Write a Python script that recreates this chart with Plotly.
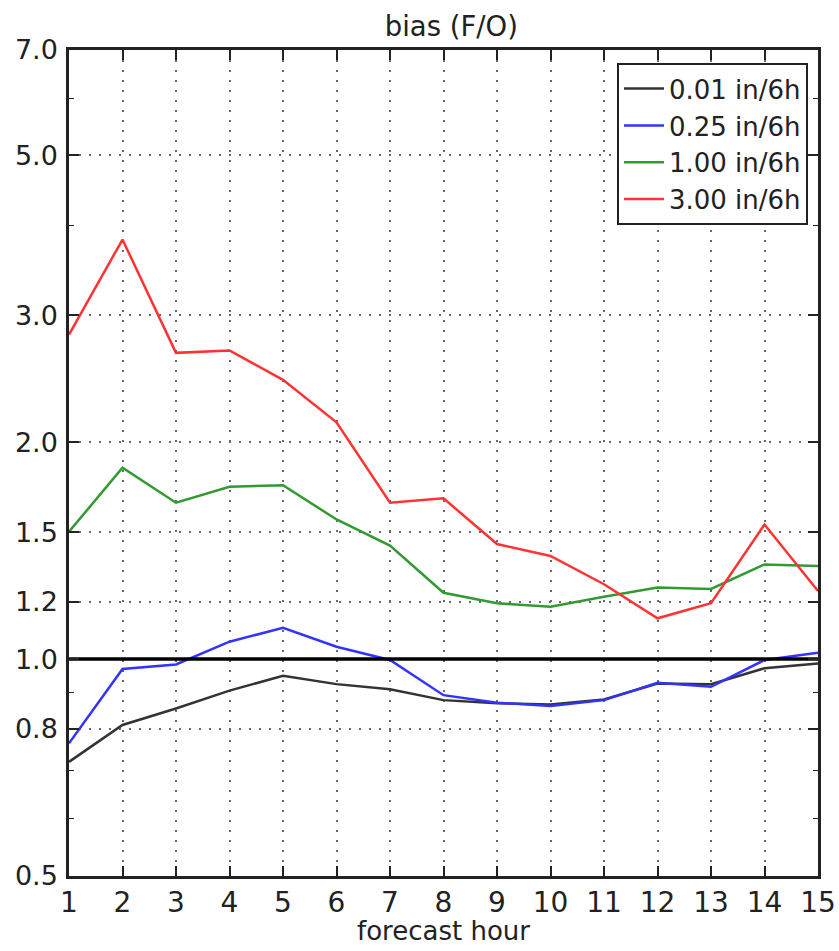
import math
import plotly.graph_objects as go

hours = list(range(1, 16))
thresholds = ["0.01 in/6h", "0.25 in/6h", "1.00 in/6h", "3.00 in/6h"]
bias_001 = [0.720, 0.810, 0.854, 0.904, 0.948, 0.923, 0.908, 0.877, 0.868, 0.865, 0.879, 0.925, 0.923, 0.971, 0.986]
bias_025 = [0.764, 0.969, 0.983, 1.057, 1.105, 1.040, 0.997, 0.891, 0.870, 0.861, 0.877, 0.927, 0.915, 0.997, 1.020]
bias_100 = [1.502, 1.843, 1.648, 1.734, 1.743, 1.562, 1.437, 1.236, 1.195, 1.182, 1.220, 1.257, 1.251, 1.353, 1.346]
bias_300 = [2.82, 3.82, 2.66, 2.68, 2.44, 2.13, 1.648, 1.671, 1.444, 1.39, 1.27, 1.139, 1.195, 1.537, 1.243]
series = [bias_001, bias_025, bias_100, bias_300]
colors = ["#333333", "#3333ff", "#339933", "#ff3333"]

ref_value = 1.0
y_ticks = [0.5, 0.8, 1.0, 1.2, 1.5, 2.0, 3.0, 5.0, 7.0]
y_minor = [0.6, 0.7, 0.9, 4.0, 6.0]
y_range = [0.5, 7.0]

FONT = "DejaVu Sans"
TXT = "#222222"

fig = go.Figure()
for name, vals, col in zip(thresholds, series, colors):
    fig.add_trace(go.Scatter(x=hours, y=vals, mode="lines", name=name,
                             line=dict(color=col, width=2.5)))
fig.add_trace(go.Scatter(x=[hours[0], hours[-1]], y=[ref_value, ref_value], mode="lines",
                         line=dict(color="black", width=3.5), showlegend=False, hoverinfo="skip"))

grid = dict(showgrid=True, gridcolor="#6a6a6a", gridwidth=1.6, griddash="2px,8px")

fig.update_layout(
    width=839, height=951,
    margin=dict(l=69, r=21, t=50, b=75),
    paper_bgcolor="white", plot_bgcolor="white",
    font=dict(family=FONT, color=TXT),
    title=dict(text="bias (F/O)", x=0.538, xanchor="center", y=0.972, yanchor="middle",
               font=dict(size=27.5, family=FONT, color=TXT)),
    showlegend=True,
    legend=dict(x=0.9866, xanchor="right", y=0.984, yanchor="top",
                bgcolor="white", bordercolor=TXT, borderwidth=2,
                font=dict(size=26, family=FONT, color=TXT),
                itemwidth=40),
    xaxis=dict(range=[hours[0], hours[-1]], tickmode="array", tickvals=hours,
               ticktext=[str(h) for h in hours],
               ticks="inside", ticklen=10, tickwidth=1.5, tickcolor=TXT,
               showline=True, linecolor=TXT, linewidth=2.5, mirror="allticks",
               tickfont=dict(size=28, family=FONT, color=TXT),
               zeroline=False, automargin=False,
               **grid),
    yaxis=dict(type="log", range=[math.log10(y_range[0]), math.log10(y_range[1])],
               tickmode="array", tickvals=y_ticks, ticktext=[f"{v:.1f}" for v in y_ticks],
               ticks="inside", ticklen=10, tickwidth=1.5, tickcolor=TXT,
               showline=True, linecolor=TXT, linewidth=2.5, mirror="allticks",
               tickfont=dict(size=27, family=FONT, color=TXT),
               ticklabelstandoff=3,
               minor=dict(tickmode="array", tickvals=y_minor, ticks="inside", ticklen=5,
                          tickwidth=1.2, tickcolor=TXT, showgrid=False),
               zeroline=False, automargin=False,
               **grid),
    annotations=[dict(text="forecast hour", xref="paper", yref="paper", x=0.5, y=-0.0465,
                      xanchor="center", yanchor="top", showarrow=False,
                      font=dict(size=26, family=FONT, color=TXT))],
)

fig.write_html("out.html")
